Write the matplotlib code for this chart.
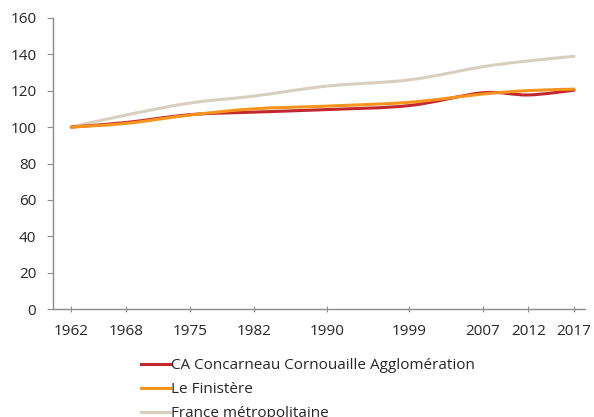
import numpy as np
import matplotlib
matplotlib.use("Agg")
import matplotlib.pyplot as plt
from matplotlib.path import Path
from matplotlib.patches import PathPatch
from matplotlib.lines import Line2D

plt.rcParams['font.family'] = ['Open Sans', 'DejaVu Sans']

years = [1962, 1968, 1975, 1982, 1990, 1999, 2007, 2012, 2017]
ca_concarneau = [100, 102.5, 106.8, 108.2, 109.6, 111.8, 118.8, 117.6, 120.2]
finistere = [100, 102.0, 106.6, 110.0, 111.5, 113.6, 118.1, 120.0, 120.8]
france = [100, 106.6, 113.2, 117.0, 122.5, 125.9, 133.1, 136.3, 138.8]

series_names = ["CA Concarneau Cornouaille Agglomération", "Le Finistère", "France métropolitaine"]
colors = ["#C1272D", "#F7941D", "#D8CFBE"]

fig = plt.figure(figsize=(5.94, 4.17), dpi=100)
ax = fig.add_axes([53/594, 1-309.3/417, (585-53)/594, (309.3-17.7)/417])

def smooth_path(x, y):
    x = np.asarray(x, float); y = np.asarray(y, float)
    n = len(x)
    verts = [(x[0], y[0])]
    codes = [Path.MOVETO]
    for i in range(n - 1):
        p0 = (x[max(i-1, 0)], y[max(i-1, 0)])
        p1 = (x[i], y[i]); p2 = (x[i+1], y[i+1])
        p3 = (x[min(i+2, n-1)], y[min(i+2, n-1)])
        c1 = (p1[0] + (p2[0]-p0[0])/6, p1[1] + (p2[1]-p0[1])/6)
        c2 = (p2[0] - (p3[0]-p1[0])/6, p2[1] - (p3[1]-p1[1])/6)
        verts += [c1, c2, p2]
        codes += [Path.CURVE4]*3
    return Path(verts, codes)

order = [(france, colors[2]), (ca_concarneau, colors[0]), (finistere, colors[1])]
for vals, col in order:
    patch = PathPatch(smooth_path(years, vals), facecolor='none', edgecolor=col,
                      lw=2.2, capstyle='round', joinstyle='round')
    ax.add_patch(patch)

ax.set_xlim(1960, 2018.2)
ax.set_ylim(0, 160)
ax.set_yticks(range(0, 161, 20))
ax.set_xticks(years)
ax.set_xticklabels([str(y) for y in years])

for s in ['top', 'right']:
    ax.spines[s].set_visible(False)
for s in ['left', 'bottom']:
    ax.spines[s].set_color('#8C8C8C')
    ax.spines[s].set_linewidth(1.0)

ax.tick_params(axis='y', direction='out', length=4, width=0.8, color='#8C8C8C',
               labelsize=11, labelcolor='#262626', pad=8)
ax.tick_params(axis='x', direction='inout', length=5, width=0.8, color='#8C8C8C',
               labelsize=11, labelcolor='#262626', pad=8)

handles = [Line2D([], [], color=c, lw=2.2) for c in colors]
leg = fig.legend(handles, series_names, loc='upper left',
                 bbox_to_anchor=(141/594, 1-358/417), frameon=False,
                 fontsize=11, handlelength=1.9, handletextpad=0.05,
                 labelspacing=0.6, borderaxespad=0, borderpad=0)
for t in leg.get_texts():
    t.set_color('#262626')

fig.savefig("out.png", dpi=100)
